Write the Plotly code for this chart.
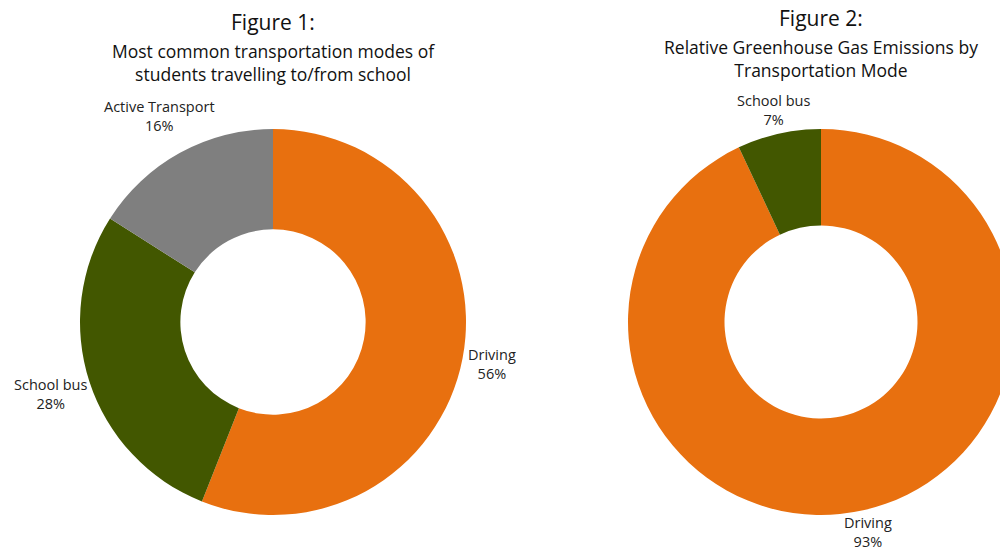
import math
import plotly.graph_objects as go

W, H = 1020, 551

fig1_labels = ["Driving", "School bus", "Active Transport"]
fig1_values = [56, 28, 16]
fig1_colors = ["#E8700F", "#425700", "#7F7F7F"]

fig2_labels = ["Driving", "School bus"]
fig2_values = [93, 7]
fig2_colors = ["#E8700F", "#425700"]

titles = ["Figure 1:", "Figure 2:"]
subtitles = ["Most common transportation modes of<br>students travelling to/from school",
             "Relative Greenhouse Gas Emissions by<br>Transportation Mode"]

FONT = "'Open Sans', sans-serif"
R = 193

def dom(cx, cy, r):
    return dict(x=[(cx - r) / W, (cx + r) / W], y=[1 - (cy + r) / H, 1 - (cy - r) / H])

fig = go.Figure()
specs = [
    (fig1_labels, fig1_values, fig1_colors, 0.48, 273, 322),
    (fig2_labels, fig2_values, fig2_colors, 0.5, 821, 322),
]
for labels, values, colors, hole, cx, cy in specs:
    fig.add_trace(go.Pie(
        labels=labels, values=values, marker=dict(colors=colors),
        hole=hole, sort=False, direction="clockwise", rotation=0,
        textinfo="none", domain=dom(cx, cy, R), showlegend=False,
    ))
    # outside labels placed radially at each slice's mid-angle
    total = sum(values)
    cum = 0
    for lab, v in zip(labels, values):
        mid = (cum + v / 2) / total * 2 * math.pi
        cum += v
        dx, dy = math.sin(mid), -math.cos(mid)
        hw, hh = len(lab) * 3.5, 14
        d = R + 3 + abs(hw * dx) + abs(hh * dy)
        px, py = cx + d * dx, cy + d * dy
        fig.add_annotation(x=px / W, y=1 - py / H, xref="paper", yref="paper",
                           text=f"{lab}<br>{round(100 * v / total)}%", showarrow=False,
                           font=dict(family=FONT, size=14.5, color="#222"),
                           xanchor="center", yanchor="middle")

for cx, ty, sy, t, s in [(273, 22, 62, titles[0], subtitles[0]), (821, 18, 58, titles[1], subtitles[1])]:
    fig.add_annotation(x=cx / W, y=1 - ty / H, xref="paper", yref="paper", text=t,
                       showarrow=False, font=dict(family=FONT, size=21, color="#111"),
                       xanchor="center", yanchor="middle")
    fig.add_annotation(x=cx / W, y=1 - sy / H, xref="paper", yref="paper", text=s,
                       showarrow=False, font=dict(family=FONT, size=17.5, color="#111"),
                       xanchor="center", yanchor="middle")

fig.update_layout(width=W, height=H, margin=dict(l=0, r=0, t=0, b=0),
                  paper_bgcolor="white", plot_bgcolor="white")

fig.write_html("out.html", config={"displayModeBar": False},
               post_script="document.body.style.margin='0';document.body.style.overflow='hidden';")
